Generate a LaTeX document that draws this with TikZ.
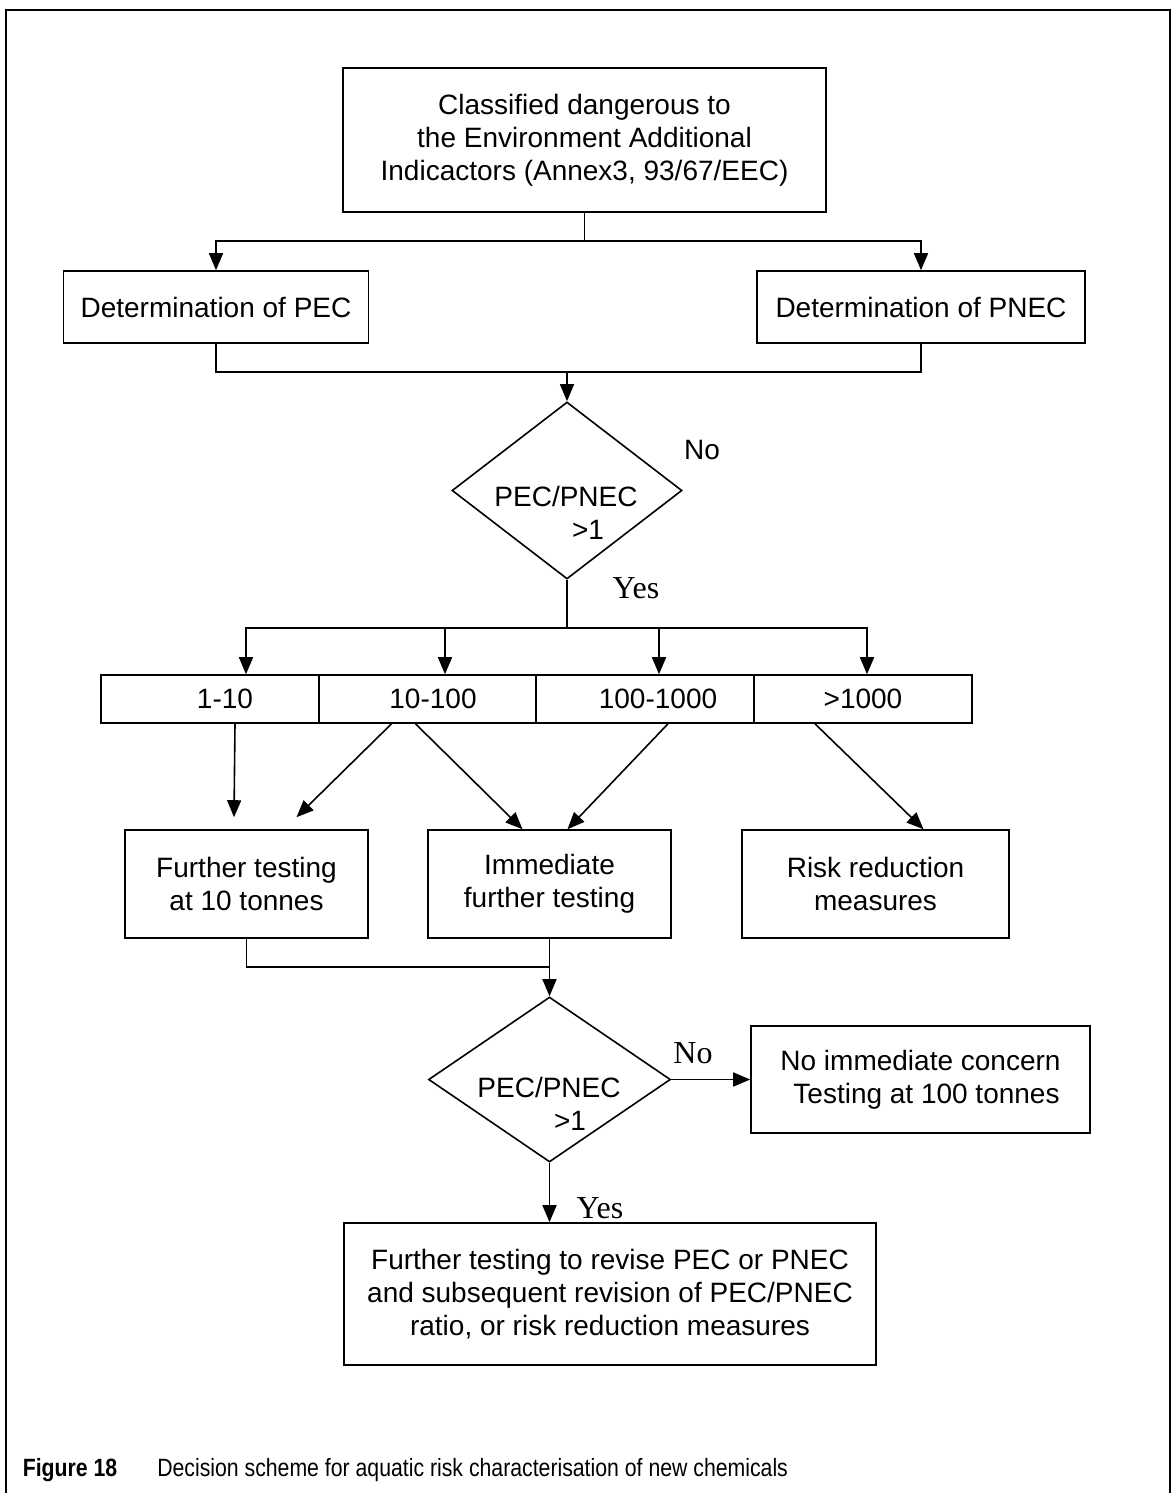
\documentclass[tikz,border=0pt]{standalone}
\usepackage{fontspec}
\setmainfont{Liberation Sans}
\newfontfamily\timesfont{Liberation Serif}
\newfontfamily\narrowfont[FakeStretch=0.85]{Liberation Sans}
\usetikzlibrary{arrows.meta,shapes.geometric}

\begin{document}
\begin{tikzpicture}[x=0.5pt,y=-0.5pt,line width=0.8pt,
  box/.style={draw,align=center},
  yesno/.style={font=\fontsize{16}{19}\selectfont\timesfont},
  arr/.style={-{Triangle[length=8.5pt,width=7pt]}}]
\tikzstyle{every node}+=[inner sep=0pt,font=\fontsize{14}{16.5}\selectfont]
\useasboundingbox (0,0) rectangle (1172,1493);
\draw [line width=1pt] (6,1493) -- (6,10) -- (1170,10) -- (1170,1493);
\node [box,minimum width=241.5pt,minimum height=72pt] (top) at (584.5,140) {Classified dangerous to\\the Environment Additional\\Indicactors (Annex3, 93/67/EEC)};
\node [box,minimum width=152.5pt,minimum height=36pt] (pec) at (216,307) {Determination of PEC};
\node [box,minimum width=164pt,minimum height=36pt] (pnec) at (921,307) {Determination of PNEC};
\node [draw,diamond,minimum width=115pt,minimum height=88.5pt] (d1) at (567,490.5) {};
\node [align=center] (d1txt) at (566,512.5) {PEC/PNEC\\\hspace*{22pt}>1};
\node (no1) at (702,450) {No};
\node [yesno] (yes1) at (636,588) {Yes};
\node [box,minimum width=109pt,minimum height=24pt] (c1) at (210,699) {\hspace*{15pt}1-10};
\node [box,minimum width=108.5pt,minimum height=24pt] (c2) at (427.5,699) {\hspace*{5.5pt}10-100};
\node [box,minimum width=109pt,minimum height=24pt] (c3) at (645,699) {\hspace*{13pt}100-1000};
\node [box,minimum width=109pt,minimum height=24pt] (c4) at (863,699) {>1000};
\node [box,minimum width=121.5pt,minimum height=54pt] (f10) at (246.5,884) {Further testing\\at 10 tonnes};
\node [box,minimum width=121.5pt,minimum height=54pt] (imm) at (549.5,884) {Immediate\\further testing};
\node [box,minimum width=133.5pt,minimum height=54pt] (risk) at (875.5,884) {Risk reduction\\measures};
\node [draw,diamond,minimum width=121pt,minimum height=82.5pt] (d2) at (549.5,1079.5) {};
\node [align=center] (d2txt) at (549,1103.5) {PEC/PNEC\\\hspace*{21pt}>1};
\node [yesno] (no2) at (693,1053) {No};
\node [box,minimum width=169.5pt,minimum height=53.5pt] (nobox) at (920.5,1079.5) {No immediate concern\\\hspace*{6pt}Testing at 100 tonnes};
\node [yesno] (yes2) at (600,1208) {Yes};
\node [box,minimum width=266pt,minimum height=71pt] (final) at (610,1294) {Further testing to revise PEC or PNEC\\and subsequent revision of PEC/PNEC\\ratio, or risk reduction measures};
\node [anchor=west,font=\fontsize{12.5}{15}\selectfont\narrowfont] (cap) at (22,1470) {\textbf{Figure 18}\hspace{20pt}Decision scheme for aquatic risk characterisation of new chemicals};
\coordinate (j0) at (584.5,241);
\draw (top) -- (j0);
\draw [arr] (j0) -| (pec);
\draw [arr] (j0) -| (pnec);
\coordinate (j1) at (567,372);
\draw (pec) |- (j1) -| (pnec);
\draw [arr] (j1) -- (d1);
\coordinate (br) at (567,628);
\draw (d1) -- (br);
\foreach \c/\s in {c1/18pt,c2/8.75pt,c3/7pt,c4/2pt}
  \draw [arr] (br) -| ([xshift=\s]\c.north);
\draw [arr] ([xshift=12.5pt]c1.south) -- ([xshift=-6.25pt,yshift=6pt]f10.north);
\draw [arr] ([xshift=-18pt]c2.south) -- ([xshift=25pt,yshift=6pt]f10.north);
\draw [arr] ([xshift=-6pt]c2.south) -- ([xshift=-13.5pt]imm.north);
\draw [arr] ([xshift=11.5pt]c3.south) -- ([xshift=9pt]imm.north);
\draw [arr] ([xshift=-24pt]c4.south) -- ([xshift=24pt]risk.north);
\coordinate (j2) at (549.5,967);
\draw (f10) |- (j2);
\draw [arr] (imm) -- (d2);
\draw [arr] (d2) -- (nobox);
\draw [arr] (d2) -- (d2 |- final.north);
\end{tikzpicture}
\end{document}
